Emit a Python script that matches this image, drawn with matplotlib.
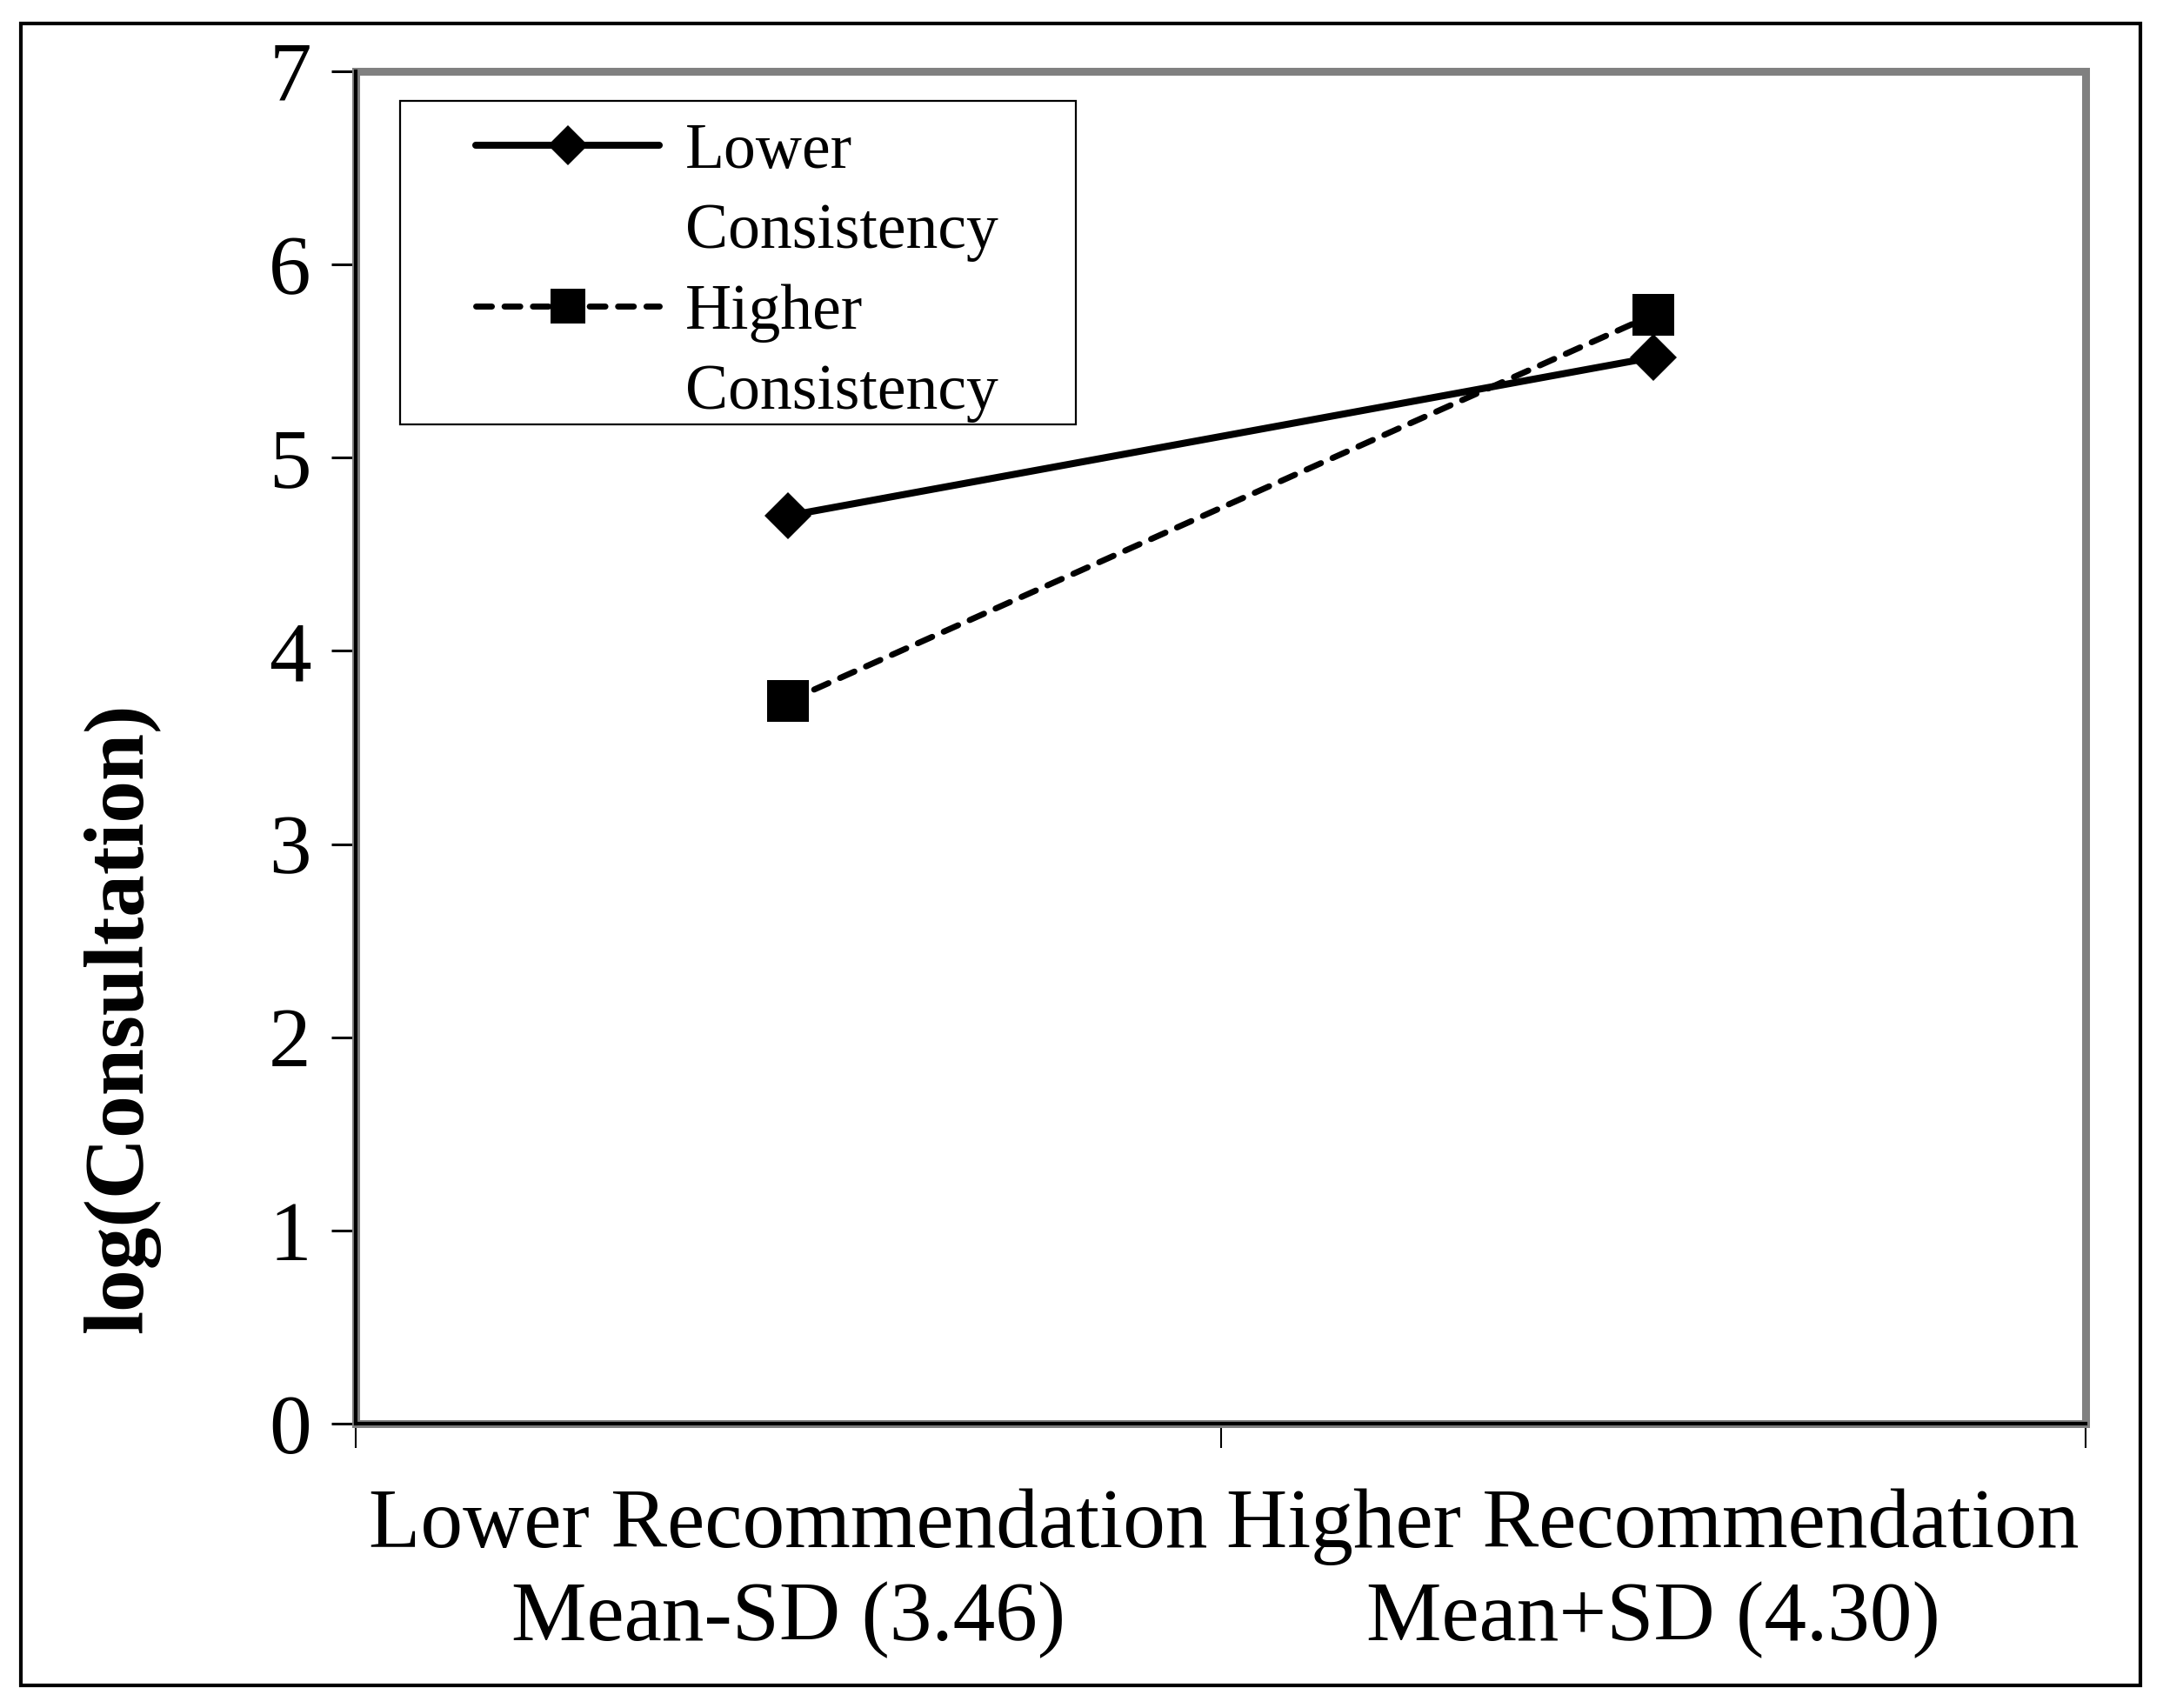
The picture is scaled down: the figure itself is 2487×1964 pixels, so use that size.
import matplotlib.pyplot as plt
import matplotlib as mpl
from matplotlib.lines import Line2D
from matplotlib.patches import Rectangle
import numpy as np

mpl.rcParams['font.family'] = ['Liberation Serif', 'DejaVu Serif']

# data
categories = ['Lower Recommendation\nMean-SD (3.46)',
              'Higher Recommendation\nMean+SD (4.30)']
lower_consistency = [4.70, 5.52]
higher_consistency = [3.74, 5.74]
series_names = ['Lower', 'Consistency', 'Higher', 'Consistency']
y_ticks = [0, 1, 2, 3, 4, 5, 6, 7]

GREY = '#808080'


def main():
    fig = plt.figure(figsize=(24.87, 19.64), dpi=100)
    ax = fig.add_axes([0.1645, 0.1665, 0.7997, 0.7917])

    x = np.arange(len(categories))
    l1, = ax.plot(x, lower_consistency, color='black', lw=5.8,
                  marker='D', markersize=27, markeredgewidth=0,
                  solid_capstyle='round', zorder=4)
    l2, = ax.plot(x, higher_consistency, color='black', lw=5,
                  linestyle=(0, (2.6, 2.1)), dash_capstyle='round',
                  marker='s', markersize=34, markeredgewidth=0, zorder=3)

    ax.set_xlim(-0.5, 1.5)
    ax.set_ylim(0, 7)

    # plot-area border in grey, axis lines in black
    for side in ['top', 'right']:
        ax.spines[side].set_color(GREY)
        ax.spines[side].set_linewidth(5)
    for side in ['left', 'bottom']:
        ax.spines[side].set_color('black')
        ax.spines[side].set_linewidth(3)
        ax.spines[side].set_zorder(6)
    ax.add_patch(Rectangle((0, 0), 1, 1, transform=ax.transAxes,
                           fill=False, edgecolor=GREY, lw=6.5,
                           clip_on=False, zorder=5))

    ax.set_yticks(y_ticks)
    ax.set_yticklabels([str(t) for t in y_ticks])
    ax.tick_params(axis='y', direction='out', length=20, width=2.2,
                   pad=17, labelsize=70)

    ax.set_xticks([-0.5, 0.5, 1.5])
    ax.set_xticklabels([])
    ax.tick_params(axis='x', which='major', direction='out', length=20,
                   width=1.5)
    ax.set_xticks(x, minor=True)
    ax.set_xticklabels(categories, minor=True, fontsize=70,
                       linespacing=1.27)
    ax.tick_params(axis='x', which='minor', length=0, pad=54)

    ax.set_ylabel('log(Consultation)', fontsize=70, fontweight='bold')
    ax.yaxis.set_label_coords(-0.113, 0.30)

    blank1 = Line2D([], [], linestyle='none')
    blank2 = Line2D([], [], linestyle='none')
    ax.legend([l1, blank1, l2, blank2], series_names,
              loc='upper left', bbox_to_anchor=(0.0694, 0.962),
              frameon=False, borderpad=0, borderaxespad=0,
              fontsize=53, handlelength=2.87, handletextpad=0.4,
              labelspacing=0.34, markerscale=0.85)
    ax.add_patch(Rectangle((0.0256, 0.7389), 0.3907, 0.2391,
                           transform=ax.transAxes, fill=False,
                           edgecolor='black', lw=1.6, zorder=7))

    # outer frame of the figure
    fig.add_artist(Rectangle((0.0095, 0.0132), 0.98, 0.973,
                             transform=fig.transFigure, fill=False,
                             edgecolor='black', lw=3))

    plt.savefig('out.png', dpi=100)


if __name__ == '__main__':
    main()
